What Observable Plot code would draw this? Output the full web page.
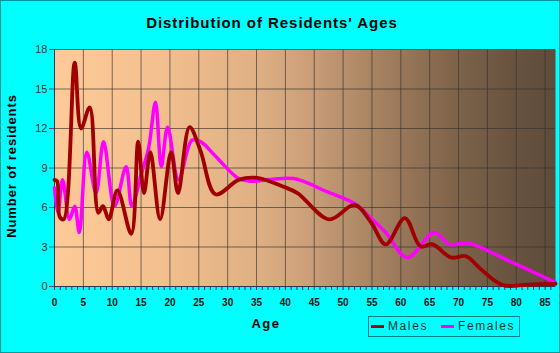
<!DOCTYPE html>
<html><head><meta charset="utf-8">
<script src="https://cdn.jsdelivr.net/npm/d3@7"></script>
<script src="https://cdn.jsdelivr.net/npm/@observablehq/plot@0.6"></script>
<style>
html,body{margin:0;padding:0;background:#00ffff;}
#wrap{position:relative;width:560px;height:353px;background:#00ffff;font-family:"Liberation Sans",Arial,sans-serif;overflow:hidden;}
#wrap svg{position:absolute;left:0;top:0;}
#title{position:absolute;left:0;width:544px;top:14px;text-align:center;font-weight:bold;font-size:15px;letter-spacing:0.95px;color:#000;}
#ylab{position:absolute;left:11px;top:166px;transform:translate(-50%,-50%) rotate(-90deg);white-space:nowrap;font-weight:bold;font-size:13px;letter-spacing:0.9px;color:#000;}
#xlab{position:absolute;left:266px;top:316px;transform:translateX(-50%);font-weight:bold;font-size:13px;letter-spacing:1.5px;color:#000;}
#legend{position:absolute;left:368px;top:316px;width:152px;height:21px;border:1px solid #008080;box-sizing:border-box;font-size:12px;letter-spacing:1.6px;color:#003333;}
#legend .item{position:absolute;top:2px;display:flex;align-items:center;}
#legend .sw{display:inline-block;width:13px;height:3px;margin-right:4px;}
#border{position:absolute;left:0;top:0;width:560px;height:353px;box-sizing:border-box;border:1px solid #009a9a;pointer-events:none;}
</style></head>
<body>
<div id="wrap">
  <div id="title">Distribution of Residents' Ages</div>
  <div id="ylab">Number of residents</div>
  <div id="xlab">Age</div>
  <div id="legend"></div>
  <div id="border"></div>
</div>
<script>
const seriesNames = ["Males", "Females"];
const seriesColors = ["#a00000", "#ff00ff"];

const maleAge = [0, 0.45, 0.9, 1.6, 3.5, 4.6, 6.1, 7.6, 8.4, 9.4, 10.9, 13.3, 14.5, 15.5, 16.6, 18.3, 20.2, 21.4, 23.4, 25.3, 27.9, 31.9, 35.1, 39.8, 42.1, 47.6, 52.0, 54.8, 57.4, 60.7, 63.4, 65.5, 68.7, 71.3, 73.9, 77.7, 82, 86.8];
const maleCount = [8.1, 8.0, 5.3, 5.1, 17.0, 12.0, 13.6, 5.6, 6.1, 5.1, 7.3, 4.0, 11.0, 7.1, 10.2, 5.1, 10.2, 7.1, 12.1, 10.3, 7.0, 8.1, 8.25, 7.55, 7.1, 5.1, 6.2, 4.9, 3.2, 5.2, 3.05, 3.2, 2.2, 2.3, 1.3, 0.1, 0.15, 0.2];

const femaleAge = [0, 0.6, 1.4, 2.6, 3.5, 4.3, 5.6, 7.2, 8.5, 10.4, 12.4, 13.4, 15.0, 16.3, 17.5, 18.5, 19.6, 21.5, 23.8, 25.3, 27.9, 31.9, 33.9, 41.4, 47.2, 52.0, 54.8, 57.4, 61.1, 65.8, 68.4, 71.6, 78.0, 86.8];
const femaleCount = [7.5, 5.6, 8.1, 5.1, 6.1, 4.1, 10.2, 7.1, 11.0, 6.1, 9.1, 6.1, 8.5, 10.5, 14.0, 9.1, 12.1, 8.1, 11.1, 11.0, 9.9, 8.2, 8.0, 8.2, 7.2, 6.3, 5.2, 4.1, 2.2, 4.1, 3.2, 3.3, 2.1, 0.3];

const xMajorTicks = [0, 5, 10, 15, 20, 25, 30, 35, 40, 45, 50, 55, 60, 65, 70, 75, 80, 85];
const xMinorTicks = d3.range(0, 87, 1);
const yTicks = [0, 3, 6, 9, 12, 15, 18];

const males = maleAge.map((a, i) => ({age: a, count: maleCount[i]}));
const females = femaleAge.map((a, i) => ({age: a, count: femaleCount[i]}));

function bgDefs() {
  const defs = d3.create("svg:defs");
  const g = defs.append("linearGradient").attr("id", "bg")
    .attr("x1", 0).attr("x2", 1).attr("y1", 0).attr("y2", 0);
  [[0, "#fdca98"], [0.2, "#f4c08f"], [0.4, "#dfb084"], [0.5, "#cda07a"],
   [0.6, "#b28b69"], [0.7, "#977658"], [0.8, "#7e634a"], [0.9, "#6b5541"], [1, "#5e4b3a"]]
    .forEach(([o, c]) => g.append("stop").attr("offset", o).attr("stop-color", c));
  return defs.node();
}

const chart = Plot.plot({
  width: 560, height: 353,
  marginLeft: 54, marginTop: 49, marginRight: 5, marginBottom: 67,
  style: {background: "transparent", fontFamily: "'Liberation Sans', Arial, sans-serif", fontSize: "11px", color: "#333"},
  x: {domain: [0, 86.8], label: null},
  y: {domain: [0, 18], label: null},
  marks: [
    bgDefs,
    Plot.frame({fill: "url(#bg)", stroke: null}),
    Plot.gridX(xMajorTicks.filter(d => d > 0), {stroke: "#333", strokeOpacity: 0.65}),
    Plot.gridY(yTicks.filter(d => d > 0), {stroke: "#333", strokeOpacity: 0.65}),
    Plot.axisY(yTicks, {tickSize: 5, tickPadding: 2, label: null, stroke: "#556", fill: "#333", fontSize: 11}),
    Plot.axisX(xMinorTicks, {tickSize: 4, tickFormat: () => "", label: null, stroke: "#334"}),
    Plot.axisX(xMajorTicks, {tickSize: 0, tickPadding: 12, label: null, fill: "#111", fontSize: 10, fontWeight: "bold"}),
    Plot.ruleX([0], {stroke: "#335"}),
    Plot.ruleY([0], {stroke: "#335"}),
    Plot.line(females, {x: "age", y: "count", curve: "catmull-rom", stroke: seriesColors[1], strokeWidth: 3.5}),
    Plot.line(males, {x: "age", y: "count", curve: "catmull-rom", stroke: seriesColors[0], strokeWidth: 3.8})
  ]
});
document.getElementById("wrap").insertBefore(chart, document.getElementById("title"));

const leg = document.getElementById("legend");
const legX = [2, 72];
seriesNames.forEach((n, i) => {
  const it = document.createElement("div");
  it.className = "item";
  it.style.left = legX[i] + "px";
  it.innerHTML = `<span class="sw" style="background:${seriesColors[i]}"></span><span>${n}</span>`;
  leg.appendChild(it);
});
</script>
</body></html>
